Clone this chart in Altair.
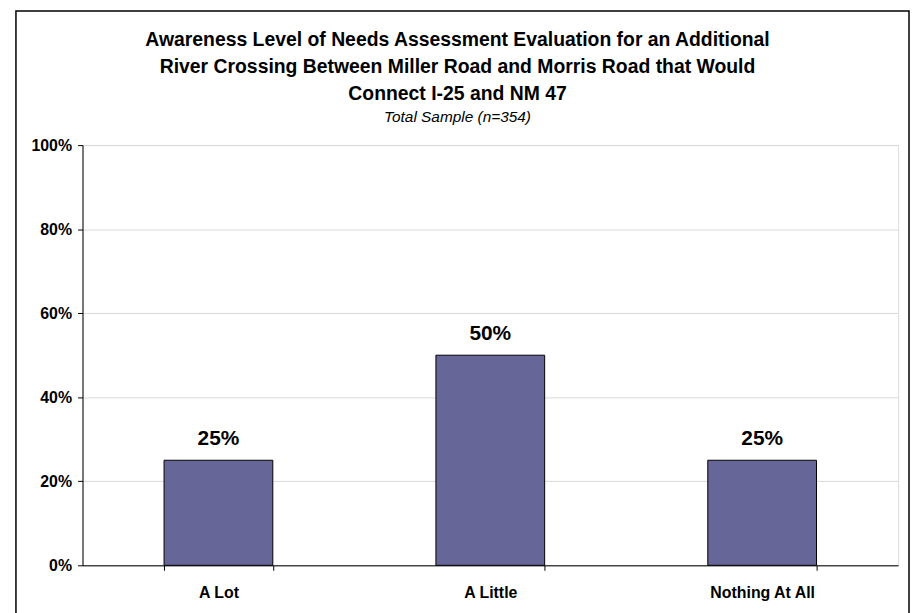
import altair as alt
import pandas as pd

categories = ["A Lot", "A Little", "Nothing At All"]
values = [0.25, 0.50, 0.25]
labels = ["25%", "50%", "25%"]

title_lines = [
    "Awareness Level of Needs Assessment Evaluation for an Additional",
    "River Crossing Between Miller Road and Morris Road that Would",
    "Connect I-25 and NM 47",
]
subtitle = "Total Sample (n=354)"

df = pd.DataFrame({"cat": categories, "val": values, "lab": labels})
FONT = "Liberation Sans"

x = alt.X("cat:N", sort=categories, title=None,
          scale=alt.Scale(paddingInner=0.6, paddingOuter=0.3),
          axis=alt.Axis(labelAngle=0, labelFont=FONT, labelFontSize=16,
                        labelFontWeight="bold", labelColor="black",
                        domainColor="black", tickColor="black", tickSize=5,
                        tickBand="extent", labelPadding=14, grid=False))
y = alt.Y("val:Q", title=None,
          scale=alt.Scale(domain=[0, 1]),
          axis=alt.Axis(values=[0, 0.2, 0.4, 0.6, 0.8, 1.0], format=".0%",
                        labelFont=FONT, labelFontSize=16, labelFontWeight="bold",
                        labelColor="black", domainColor="black",
                        tickColor="black", tickSize=5, labelPadding=6,
                        grid=True, gridColor="#d9d9d9"))

bars = alt.Chart(df).mark_bar(color="#666699", stroke="black",
                              strokeWidth=1).encode(x=x, y=y)
text = alt.Chart(df).mark_text(baseline="bottom", dy=-11, font=FONT,
                               fontSize=21, fontWeight="bold",
                               color="black").encode(
    x=alt.X("cat:N", sort=categories), y="val:Q", text="lab:N")

frame = alt.Chart(pd.DataFrame({"a": [0]})).mark_rect(
    fill=None, fillOpacity=0, stroke="black", strokeWidth=1.5).encode(
    x=alt.value(-67), x2=alt.value(832), y=alt.value(-135), y2=alt.value(490))

chart = alt.layer(frame, bars, text).properties(
    width=821, height=423,
    padding={"left": 75, "top": 136, "right": 12, "bottom": 46},
    autosize=alt.AutoSizeParams(type="none"),
    title=alt.TitleParams(text=title_lines, subtitle=subtitle,
                          font=FONT, fontSize=19.5, fontWeight="bold",
                          color="black", lineHeight=27,
                          subtitleFont=FONT, subtitleFontSize=15.5,
                          subtitleFontStyle="italic", subtitleColor="black",
                          subtitlePadding=6,
                          anchor="middle", dx=-33, offset=-117),
).configure_view(stroke="#808080", strokeWidth=1.5).configure(background="white")

chart.save("out.html", embed_options={"renderer": "svg", "actions": False})
